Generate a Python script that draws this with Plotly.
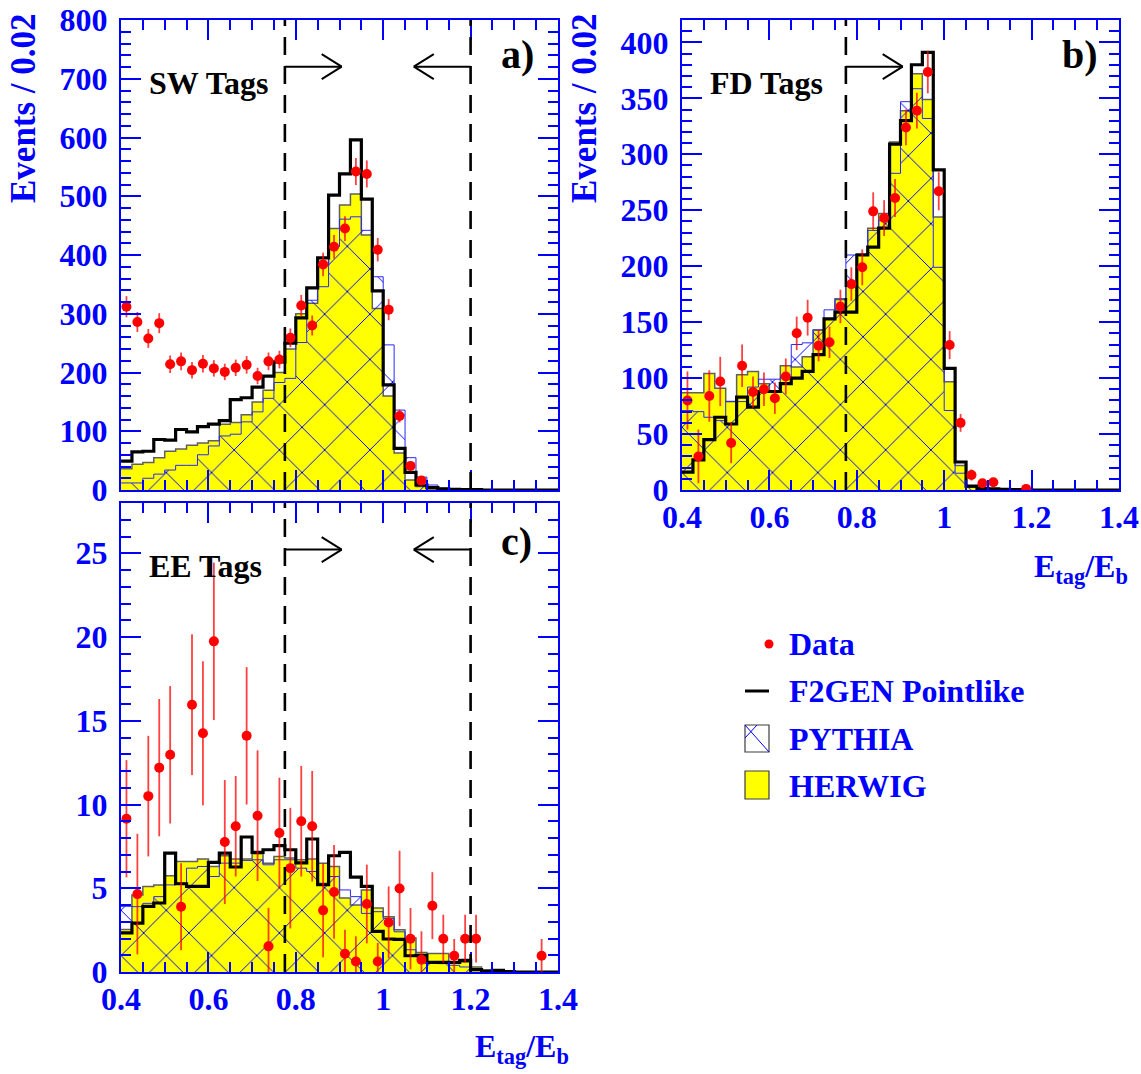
import numpy as np
import plotly.graph_objects as go

W, H = 1141, 1074
X_LO, BIN_W, N_BINS = 0.4, 0.025, 40
CUT_LO, CUT_HI = 0.775, 1.2

# ---------------- SW tags (panel a) ----------------
sw_data = [312, 286, 258, 284, 214, 219, 204, 215, 207, 201, 208, 213, 194, 219, 222, 259, 314, 280, 384, 414,
           445, 542, 538, 409, 307, 126, 41, 16, None, None, None, None, None, None, None, None, None, None, None, None]
sw_err = [18, 17, 16, 17, 15, 15, 14, 15, 14, 14, 14, 15, 14, 15, 15, 16, 18, 17, 20, 20,
          21, 23, 23, 20, 18, 11, 6.5, 4, 0, 0, 0, 0, 0, 0, 0, 0, 0, 0, 0, 0]
sw_f2gen = [49, 65, 66, 86, 85, 103, 99, 108, 112, 118, 154, 157, 175, 194, 218, 250, 293, 344, 395, 502,
            538, 596, 495, 339, 179, 71, 30, 8.5, 4, 2, 1, 0.5, 0.5, 0, 0, 0, 0, 0, 0, 0]
sw_herwig = [36, 44, 47, 55, 66, 70, 76, 80, 84, 112, 115, 128, 150, 170, 200, 240, 300, 318, 384, 445,
             485, 504, 434, 309, 160, 63, 17, 6, 2, 1, 0.5, 0, 0, 0, 0, 0, 0, 0, 0, 0]
sw_pythia = [12, 12, 20, 27, 34, 42, 42, 60, 75, 92, 95, 116, 133, 156, 183, 190, 251, 323, 346, 414,
             461, 465, 442, 363, 247, 136, 55, 22, 8.5, 3, 1, 0.5, 0, 0, 0, 0, 0, 0, 0, 0]

# ---------------- FD tags (panel b) ----------------
fd_data = [80, 30, 84, 97, 42, 111, 87.5, 90, 82, 101.5, 140, 154, 129, 132, 164, 184, 199, 249, 243, 261,
           324, 339, 373.5, 267, 129.5, 60, 13.4, 6, 7, None, None, 1, None, None, None, None, None, None, None, None]
fd_err = [26, 24, 23, 22, 18, 19, 14, 15, 14, 16, 15, 16, 14, 14, 15, 15, 16, 17, 16, 17,
          16, 16, 19, 17, 12.5, 8, 5, 3, 3, 0, 0, 1, 0, 0, 0, 0, 0, 0, 0, 0]
fd_f2gen = [16, 27, 45, 65, 59, 83, 74, 88, 88, 95, 100, 106, 121, 153, 159, 159, 210, 217, 234, 309,
            330, 380, 391, 286, 108.6, 25, 3.5, 1.5, 1, 0.5, 0.3, 0.3, 0, 0, 0, 0, 0, 0, 0, 0]
fd_herwig = [87, 87, 104, 91, 79, 103, 106, 95, 88, 111, 110, 119, 143, 153, 171, 185, 211, 234, 247, 311,
             339, 372, 349, 244, 96.7, 22, 3, 1.5, 1, 0.5, 0.3, 0, 0, 0, 0, 0, 0, 0, 0, 0]
fd_pythia = [71, 70, 65, 62, 79, 79, 92, 99, 99, 101, 130, 131.5, 143, 161, 170, 210, 210, 232, 241, 283,
             347, 358.6, 332, 199, 71, 15, 2.5, 1, 0.5, 0, 0, 0, 0, 0, 0, 0, 0, 0, 0, 0]

# ---------------- EE tags (panel c) ----------------
ee_data = [9.15, 4.65, 10.5, 12.2, 12.97, 3.9, 15.96, 14.25, 19.74, 7.76, 8.7, 14.1, 9.33, 1.53, 8.3, 6.2, 9.0, 8.7, 3.68, 4.78,
           1.09, 0.63, 4.06, 0.63, 2.96, 4.99, 1.99, 0.73, 3.96, 1.99, 0.97, 1.99, 1.99, None, None, None, None, None, 0.97, None]
ee_err = [3.5, 3.6, 3.6, 4.1, 4.1, 2.6, 4.2, 4.3, 4.7, 3.7, 3.0, 4.1, 3.9, 2.3, 3.3, 3.6, 3.3, 3.3, 2.8, 2.8,
          1.43, 1.5, 2.35, 1.1, 2.15, 2.25, 1.83, 1.7, 2.0, 1.43, 1.0, 1.43, 1.43, 0, 0, 0, 0, 0, 1.0, 0]
ee_f2gen = [2.33, 2.92, 3.92, 4.12, 7.1, 5.27, 5.11, 5.11, 6.54, 7.1, 6.27, 8.06, 7.14, 7.3, 7.54, 7.3, 6.51, 7.94, 5.21, 6.94,
            7.14, 5.67, 5.11, 2.43, 1.97, 1.95, 0.97, 1.0, 0.57, 0.57, 0.57, 0.7, 0.14, 0.05, 0.1, 0.02, 0, 0, 0, 0]
ee_herwig = [2.53, 4.6, 5.11, 5.2, 5.75, 6.6, 6.6, 6.74, 6.3, 6.94, 6.74, 6.74, 7.06, 6.5, 6.9, 6.8, 6.7, 6.74, 6.5, 6.3,
             4.42, 4.0, 4.9, 3.82, 3.3, 2.52, 2.03, 1.17, 1.1, 1.1, 0.57, 0.6, 0.3, 0.1, 0.05, 0, 0, 0, 0, 0]
ee_pythia = [3.92, 3.9, 4.1, 4.5, 5.2, 5.3, 6.2, 6.3, 5.7, 6.5, 6.5, 6.66, 6.7, 6.4, 6.7, 6.7, 6.2, 6.0, 5.3, 5.7,
             4.9, 4.5, 3.5, 3.6, 3.2, 2.4, 1.33, 0.9, 0.6, 0.5, 0.4, 0.3, 0.2, 0.1, 0, 0, 0, 0, 0, 0]

panel_titles = ["SW Tags", "FD Tags", "EE Tags"]
panel_tags = ["a)", "b)", "c)"]
y_maxes = [800, 420, 28]
y_dticks = [100, 50, 5]
y_minor = [20, 10, 1]
legend_names = ["Data", "F2GEN Pointlike", "PYTHIA", "HERWIG"]
y_title = "Events / 0.02"
x_title = "E<sub>tag</sub>/E<sub>b</sub>"

FONT = "Liberation Serif"
BLUE = "rgb(0,0,255)"

edges = X_LO + BIN_W * np.arange(N_BINS + 1)
centers = X_LO + BIN_W * (np.arange(N_BINS) + 0.5)

# pixel boxes of the three frames (left, top, right, bottom)
boxes = [(121, 20, 558, 490), (682, 20, 1119, 490), (121, 503, 558, 972)]
axis_ids = [("x", "y"), ("x2", "y2"), ("x3", "y3")]


def px(xp):
    return xp / W


def py(yp):
    return 1 - yp / H


fig = go.Figure()

series = [
    (sw_data, sw_err, sw_f2gen, sw_herwig, sw_pythia),
    (fd_data, fd_err, fd_f2gen, fd_herwig, fd_pythia),
    (ee_data, ee_err, ee_f2gen, ee_herwig, ee_pythia),
]

for k, (dat, err, f2, hw, py_) in enumerate(series):
    xa, ya = axis_ids[k]
    hw_y = list(hw) + [hw[-1]]
    pt_y = list(py_) + [py_[-1]]
    f2_y = list(f2) + [f2[-1]]
    fig.add_trace(go.Scatter(x=edges, y=hw_y, mode="lines", xaxis=xa, yaxis=ya,
                             line=dict(shape="hv", color="rgb(95,95,95)", width=1.5),
                             fill="tozeroy", fillcolor="rgb(255,255,0)", showlegend=False,
                             name=legend_names[3]))
    fig.add_trace(go.Scatter(x=edges, y=pt_y, mode="lines", xaxis=xa, yaxis=ya,
                             line=dict(shape="hv", color="rgb(40,40,255)", width=1),
                             fill="tozeroy", fillcolor="rgba(0,0,0,0)",
                             fillpattern=dict(shape="x", fgcolor=BLUE, bgcolor="rgba(0,0,0,0)",
                                              size=32, solidity=0.06, fillmode="replace"),
                             showlegend=False, name=legend_names[2]))
    fig.add_trace(go.Scatter(x=edges, y=f2_y, mode="lines", xaxis=xa, yaxis=ya,
                             line=dict(shape="hv", color="black", width=3.2),
                             showlegend=False, name=legend_names[1]))
    fig.add_trace(go.Scatter(x=centers, y=dat, mode="markers", xaxis=xa, yaxis=ya,
                             marker=dict(color="rgb(255,0,0)", size=10, symbol="circle"),
                             error_y=dict(type="data", array=err, color="rgba(255,0,0,0.75)",
                                          thickness=1.8, width=0),
                             showlegend=False, name=legend_names[0]))

tickfont = dict(family=FONT, size=32, color=BLUE, weight="bold")

for k in range(3):
    l, t, r, b = boxes[k]
    xkey = "xaxis" if k == 0 else f"xaxis{k+1}"
    ykey = "yaxis" if k == 0 else f"yaxis{k+1}"
    xa, ya = axis_ids[k]
    fig.layout[xkey] = dict(domain=[px(l), px(r)], range=[0.4, 1.4], anchor=ya, automargin=False,
                            tick0=0.4, dtick=0.2, ticks="inside", ticklen=20, tickwidth=1.5,
                            tickcolor=BLUE, showline=True, linecolor=BLUE, linewidth=2.2,
                            mirror="ticks", showgrid=False, zeroline=False,
                            showticklabels=(k != 0), tickfont=tickfont, ticklabelstandoff=-3,
                            minor=dict(dtick=0.05, tick0=0.4, ticks="inside", ticklen=10,
                                       tickwidth=1.5, tickcolor=BLUE, showgrid=False))
    fig.layout[ykey] = dict(domain=[py(b), py(t)], range=[0, y_maxes[k]], anchor=xa, automargin=False,
                            tick0=0, dtick=y_dticks[k], ticks="inside", ticklen=20, tickwidth=1.5,
                            tickcolor=BLUE, showline=True, linecolor=BLUE, linewidth=2.2,
                            mirror="ticks", showgrid=False, zeroline=False,
                            tickfont=tickfont, ticklabelstandoff=5,
                            minor=dict(dtick=y_minor[k], tick0=0, ticks="inside", ticklen=10,
                                       tickwidth=1.5, tickcolor=BLUE, showgrid=False))

shapes = []
annotations = []
ARROW_FRAC = 0.9006
HEAD_DX = 20 / 437 * 1.0
HEAD_DY = 12.5 / 470
ARROW_LEN = 0.13

for k in range(3):
    xa, ya = axis_ids[k]
    yd = ya + " domain"
    cuts = [CUT_LO, CUT_HI] if k != 1 else [CUT_LO]
    for c in cuts:
        shapes.append(dict(type="line", xref=xa, yref=yd, x0=c, x1=c, y0=0, y1=1,
                           line=dict(color="black", width=2.6, dash="18px,11px")))
    # right-pointing arrow from low cut
    tip = CUT_LO + ARROW_LEN
    shapes.append(dict(type="line", xref=xa, yref=yd, x0=CUT_LO, x1=tip, y0=ARROW_FRAC, y1=ARROW_FRAC,
                       line=dict(color="black", width=2)))
    for s in (1, -1):
        shapes.append(dict(type="line", xref=xa, yref=yd, x0=tip, x1=tip - HEAD_DX,
                           y0=ARROW_FRAC, y1=ARROW_FRAC + s * HEAD_DY, line=dict(color="black", width=2)))
    if k != 1:
        tip = CUT_HI - ARROW_LEN
        shapes.append(dict(type="line", xref=xa, yref=yd, x0=CUT_HI, x1=tip, y0=ARROW_FRAC, y1=ARROW_FRAC,
                           line=dict(color="black", width=2)))
        for s in (1, -1):
            shapes.append(dict(type="line", xref=xa, yref=yd, x0=tip, x1=tip + HEAD_DX,
                               y0=ARROW_FRAC, y1=ARROW_FRAC + s * HEAD_DY, line=dict(color="black", width=2)))

# panel titles and tags
title_pos = [(147, 83), (708, 83), (147, 566)]
tag_pos = [(517, 55), (1080, 55), (516, 541)]
for k in range(3):
    annotations.append(dict(text=panel_titles[k], xref="paper", yref="paper", x=px(title_pos[k][0]),
                            y=py(title_pos[k][1]), xanchor="left", yanchor="middle", showarrow=False,
                            font=dict(family=FONT, size=32, color="black", weight="bold")))
    annotations.append(dict(text=panel_tags[k], xref="paper", yref="paper", x=px(tag_pos[k][0]),
                            y=py(tag_pos[k][1]), xanchor="center", yanchor="middle", showarrow=False,
                            font=dict(family=FONT, size=40, color="black", weight="bold")))

# axis titles
for xc in (23, 584):
    annotations.append(dict(text=y_title, xref="paper", yref="paper", x=px(xc), y=py(108),
                            xanchor="center", yanchor="middle", textangle=-90, showarrow=False,
                            font=dict(family=FONT, size=35, color=BLUE, weight="bold")))
for (xr, yc) in ((1130, 568), (571, 1048)):
    annotations.append(dict(text=x_title, xref="paper", yref="paper", x=px(xr), y=py(yc),
                            xanchor="right", yanchor="middle", showarrow=False,
                            font=dict(family=FONT, size=32, color=BLUE, weight="bold")))

# legend (drawn by hand)
leg_rows = [644, 691, 739, 786]
for name, yc in zip(legend_names, leg_rows):
    annotations.append(dict(text=name, xref="paper", yref="paper", x=px(787), y=py(yc),
                            xanchor="left", yanchor="middle", showarrow=False,
                            font=dict(family=FONT, size=32, color=BLUE, weight="bold")))
# Data marker
shapes.append(dict(type="circle", xref="paper", yref="paper", x0=px(764.5), x1=px(773.5),
                   y0=py(648.5), y1=py(639.5), fillcolor="red", line=dict(color="red", width=0)))
# F2GEN line
shapes.append(dict(type="line", xref="paper", yref="paper", x0=px(745), x1=px(769), y0=py(691), y1=py(691),
                   line=dict(color="black", width=3)))
# PYTHIA box
shapes.append(dict(type="rect", xref="paper", yref="paper", x0=px(745), x1=px(769), y0=py(752), y1=py(725),
                   fillcolor="white", line=dict(color="rgb(60,60,60)", width=1.2)))
shapes.append(dict(type="line", xref="paper", yref="paper", x0=px(745), x1=px(769), y0=py(725), y1=py(752),
                   line=dict(color=BLUE, width=1)))
shapes.append(dict(type="line", xref="paper", yref="paper", x0=px(745), x1=px(757), y0=py(738), y1=py(725),
                   line=dict(color=BLUE, width=1)))
# HERWIG box
shapes.append(dict(type="rect", xref="paper", yref="paper", x0=px(745), x1=px(769), y0=py(799), y1=py(771),
                   fillcolor="rgb(255,255,0)", line=dict(color="rgb(60,60,60)", width=1.2)))

fig.update_layout(width=W, height=H, margin=dict(l=0, r=0, t=0, b=0),
                  plot_bgcolor="white", paper_bgcolor="white", showlegend=False,
                  shapes=shapes, annotations=annotations)

fig.write_html("out.html")
